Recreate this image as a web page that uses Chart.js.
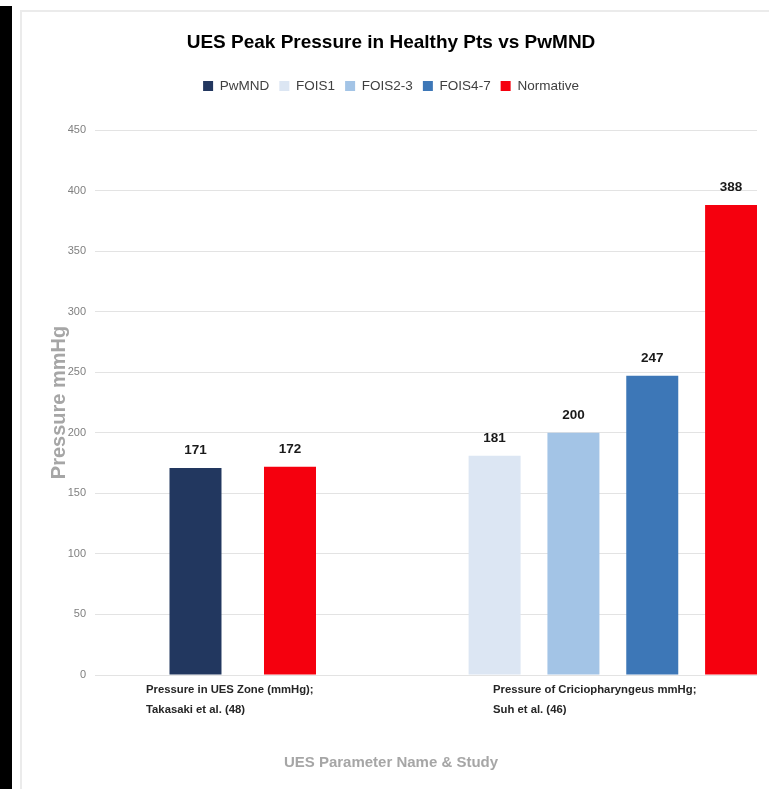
<!DOCTYPE html>
<html>
<head>
<meta charset="utf-8">
<script src="https://cdn.jsdelivr.net/npm/chart.js@4/dist/chart.umd.min.js"></script>
<style>
  html, body { margin: 0; padding: 0; background: #ffffff; }
  body { width: 769px; height: 789px; position: relative; overflow: hidden; }
  #edge { position: absolute; left: 0; top: 6px; width: 12px; bottom: 0; background: #000000; }
  #frame { position: absolute; left: 20px; top: 10px; right: 0; bottom: 0;
           border-left: 2px solid #ebebeb; border-top: 2px solid #ebebeb; }
  #wrap { position: absolute; left: 0; top: 0; width: 769px; height: 789px; }
</style>
</head>
<body>
<div id="edge"></div>
<div id="frame"></div>
<div id="wrap"><canvas id="chart" width="769" height="789"></canvas></div>
<script>
// Study / parameter groups shown along the x axis
const categories = [
  ['Pressure in UES Zone (mmHg);', 'Takasaki et al. (48)'],
  ['Pressure of Criciopharyngeus mmHg;', 'Suh et al. (46)']
];

// Peak UES pressure (mmHg) per series; null where a series has no bar in a group
const pwmnd     = [171, null];
const fois1     = [null, 181];
const fois23    = [null, 200];
const fois47    = [null, 247];
const normative = [172, 388];

// y axis range and step (mmHg)
const yMin = 0;
const yMax = 450;
const yStep = 50;

// x axis window around the two group positions (0 and 1)
const xMin = -0.3992;
const xMax = 1.3895;
// where each left-aligned group caption starts, in x-axis units
const captionStart = [-0.2614, 0.6762];

const FONT = "'Liberation Sans', Arial, sans-serif";

const colors = {
  PwMND: '#22375f',
  FOIS1: '#dce6f3',
  'FOIS2-3': '#a3c4e6',
  'FOIS4-7': '#3d77b7',
  Normative: '#f5000e'
};

// Bars in the first group are spread wider than the four bars of the second group
const GROUP1_PCT = 0.5107;
const GROUP2_PCT = 0.852;

function onlyIndex(arr, idx) {
  return arr.map((v, i) => (i === idx ? v : null));
}

function bar(label, data, pct, inLegend) {
  return {
    label: label,
    data: data,
    backgroundColor: colors[label],
    borderWidth: 0,
    categoryPercentage: pct,
    barPercentage: 1,
    maxBarThickness: 52,
    skipNull: true,
    inLegend: inLegend
  };
}

// Value labels written above each bar
const valueLabels = {
  id: 'valueLabels',
  afterDatasetsDraw(chart) {
    const ctx = chart.ctx;
    ctx.save();
    ctx.font = 'bold 13.5px ' + FONT;
    ctx.fillStyle = '#1a1a1a';
    ctx.textAlign = 'center';
    ctx.textBaseline = 'middle';
    chart.data.datasets.forEach((ds, di) => {
      const meta = chart.getDatasetMeta(di);
      if (meta.hidden) return;
      meta.data.forEach((el, i) => {
        const v = ds.data[i];
        if (v === null || v === undefined) return;
        ctx.fillText(String(v), el.x, el.y - 17.5);
      });
    });
    ctx.restore();
  }
};

new Chart(document.getElementById('chart'), {
  type: 'bar',
  data: {
    labels: categories.map((_, i) => i),
    datasets: [
      bar('PwMND', pwmnd, GROUP1_PCT, true),
      bar('FOIS1', fois1, GROUP2_PCT, true),
      bar('FOIS2-3', fois23, GROUP2_PCT, true),
      bar('FOIS4-7', fois47, GROUP2_PCT, true),
      bar('Normative', onlyIndex(normative, 0), GROUP1_PCT, true),
      bar('Normative', onlyIndex(normative, 1), GROUP2_PCT, false)
    ]
  },
  options: {
    responsive: false,
    animation: false,
    events: [],
    layout: { padding: { left: 25, right: 12, top: 0, bottom: 14 } },
    plugins: {
      title: {
        display: true,
        text: 'UES Peak Pressure in Healthy Pts vs PwMND',
        color: '#000000',
        font: { family: FONT, size: 19, weight: 'bold', lineHeight: 1.2 },
        padding: { top: 31, bottom: 15.5 }
      },
      subtitle: {
        display: true,
        position: 'bottom',
        text: 'UES Parameter Name & Study',
        color: '#a6a6a6',
        font: { family: FONT, size: 15, weight: 'bold', lineHeight: 1.2 },
        padding: { top: 0, bottom: 3 }
      },
      legend: {
        display: true,
        position: 'top',
        labels: {
          boxWidth: 10,
          boxHeight: 10,
          padding: 10,
          color: '#404040',
          font: { family: FONT, size: 13.5 },
          filter: (item, data) => data.datasets[item.datasetIndex].inLegend
        }
      },
      tooltip: { enabled: false }
    },
    scales: {
      // value axis for the bars; sits above the plot as a blank band under the legend
      x: {
        type: 'linear',
        position: 'top',
        bounds: 'data',
        min: xMin,
        max: xMax,
        offset: false,
        grid: { display: false, drawTicks: false },
        border: { display: false },
        ticks: { display: false },
        afterBuildTicks: (scale) => {
          scale.ticks = categories.map((_, i) => ({ value: i }));
        },
        afterFit: (scale) => {
          scale.height = 27.2;
          scale.paddingLeft = 0;
          scale.paddingRight = 0;
        }
      },
      // group captions under the plot
      captions: {
        type: 'linear',
        position: 'bottom',
        bounds: 'data',
        min: xMin,
        max: xMax,
        offset: false,
        grid: { display: false, drawTicks: false },
        border: { display: false },
        afterBuildTicks: (scale) => {
          scale.ticks = captionStart.map((v) => ({ value: v }));
        },
        afterFit: (scale) => {
          scale.height = 79;
          scale.paddingLeft = 0;
          scale.paddingRight = 0;
        },
        ticks: {
          autoSkip: false,
          maxRotation: 0,
          minRotation: 0,
          align: 'start',
          padding: 5,
          color: '#262626',
          font: { family: FONT, size: 11.3, weight: 'bold', lineHeight: 1.77 },
          callback: (value, index) => categories[index]
        }
      },
      y: {
        min: yMin,
        max: yMax,
        grid: { color: '#e3e3e3', lineWidth: 1, drawTicks: false },
        border: { display: false },
        afterFit: (scale) => { scale.width = 70; },
        ticks: {
          stepSize: yStep,
          padding: 9,
          color: '#808080',
          font: { family: FONT, size: 11 }
        },
        title: {
          display: true,
          text: 'Pressure mmHg',
          color: '#a6a6a6',
          font: { family: FONT, size: 20, weight: 'bold', lineHeight: 1.2 },
          padding: { top: 22, bottom: 0 }
        }
      }
    }
  },
  plugins: [valueLabels]
});
</script>
</body>
</html>
